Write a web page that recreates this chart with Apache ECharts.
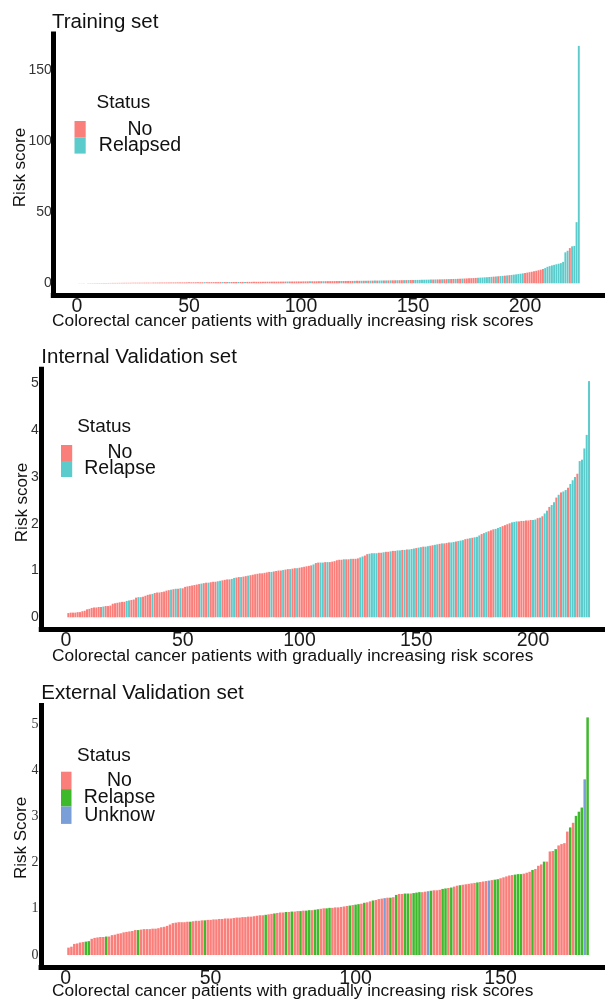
<!DOCTYPE html>
<html>
<head>
<meta charset="utf-8">
<title>Risk score distribution</title>
<script src="https://cdn.jsdelivr.net/npm/echarts@6.0.0/dist/echarts.min.js"></script>
<style>
  html, body { margin: 0; padding: 0; background: #ffffff; }
  #chart { width: 605px; height: 1002px; }
</style>
</head>
<body>
<div id="chart"></div>
<script>
// ---- Training set: risk scores sorted ascending, one per patient ----
const trainingScores = [
  0.08,0.10,0.11,0.13,0.14,0.16,0.17,0.18,0.20,0.21,
  0.22,0.24,0.25,0.26,0.27,0.29,0.30,0.31,0.32,0.33,
  0.35,0.36,0.37,0.38,0.39,0.41,0.42,0.43,0.44,0.45,
  0.46,0.48,0.49,0.50,0.51,0.52,0.53,0.55,0.56,0.57,
  0.58,0.59,0.60,0.62,0.63,0.64,0.66,0.67,0.68,0.69,
  0.70,0.72,0.73,0.74,0.75,0.76,0.78,0.79,0.80,0.81,
  0.83,0.84,0.85,0.86,0.88,0.89,0.90,0.91,0.93,0.94,
  0.95,0.96,0.98,0.99,1.00,1.01,1.03,1.04,1.05,1.06,
  1.08,1.09,1.10,1.12,1.13,1.14,1.16,1.17,1.18,1.20,
  1.21,1.22,1.24,1.25,1.27,1.28,1.29,1.31,1.32,1.34,
  1.35,1.37,1.38,1.40,1.41,1.43,1.44,1.46,1.47,1.49,
  1.50,1.52,1.54,1.55,1.57,1.59,1.60,1.62,1.64,1.66,
  1.68,1.70,1.71,1.73,1.75,1.77,1.79,1.81,1.83,1.85,
  1.87,1.90,1.92,1.94,1.96,1.99,2.01,2.03,2.06,2.08,
  2.11,2.13,2.16,2.19,2.21,2.24,2.27,2.30,2.33,2.36,
  2.39,2.42,2.45,2.49,2.52,2.56,2.59,2.63,2.67,2.71,
  2.75,2.79,2.83,2.88,2.92,2.97,3.02,3.07,3.12,3.17,
  3.25,3.32,3.39,3.46,3.54,3.62,3.71,3.80,3.90,4.00,
  4.10,4.21,4.32,4.44,4.56,4.69,4.82,4.96,5.10,5.25,
  5.40,5.56,5.73,5.91,6.10,6.30,6.52,6.75,7.00,7.26,
  7.54,7.83,8.14,8.47,8.82,9.20,9.60,10.1,10.7,11.6,
  12.1,12.6,13.0,13.4,13.8,14.2,15.1,21.8,22.9,24.8,
  26.0,26.3,43.0,167.0
];
// N = no relapse, R = relapsed
const trainingStatus =
  "NNNNNNNNNN NNNNNNNNNN NNNNNNNNNN NNNNNNNNNN NNNNNNNNNN " +
  "NNNNNNRNNN NNNNRNNRNN NRNNRNNNNN NNNNNNNNNN NNNRNNNNNN " +
  "NNNRNNNNNR NNNNNNNRNN NNNRNNRNRN RNRNRRNRNR NNRNNRNRNN " +
  "RRRRRRRRNR NNRNNRNNRN NRNNNNNNRR RRRRRNRNRR NRNRRRRRRN " +
  "NNNNNNNNRR RRRRRRRRRN RRRR";

// ---- Internal validation set ----
const internalScores = [
  0.09,0.10,0.10,0.10,0.11,0.11,0.13,0.14,0.17,0.18,
  0.20,0.21,0.21,0.22,0.22,0.23,0.24,0.24,0.25,0.29,
  0.30,0.31,0.32,0.33,0.33,0.35,0.36,0.37,0.38,0.42,
  0.43,0.43,0.44,0.46,0.48,0.49,0.50,0.52,0.53,0.53,
  0.54,0.55,0.57,0.58,0.59,0.60,0.61,0.61,0.62,0.62,
  0.65,0.66,0.67,0.68,0.69,0.70,0.71,0.72,0.73,0.74,
  0.74,0.75,0.76,0.76,0.77,0.78,0.79,0.80,0.81,0.81,
  0.82,0.84,0.85,0.86,0.86,0.87,0.88,0.89,0.90,0.91,
  0.92,0.93,0.94,0.94,0.95,0.96,0.97,0.97,0.98,0.99,
  1.00,1.00,1.01,1.02,1.03,1.03,1.04,1.05,1.05,1.06,
  1.07,1.08,1.09,1.10,1.11,1.13,1.16,1.17,1.17,1.17,
  1.18,1.18,1.18,1.19,1.20,1.22,1.23,1.23,1.24,1.24,
  1.24,1.25,1.25,1.25,1.26,1.28,1.30,1.32,1.35,1.36,
  1.37,1.37,1.37,1.38,1.38,1.39,1.40,1.40,1.41,1.42,
  1.42,1.43,1.43,1.44,1.44,1.45,1.45,1.46,1.47,1.48,
  1.49,1.50,1.51,1.51,1.52,1.53,1.54,1.55,1.56,1.57,
  1.58,1.58,1.59,1.60,1.60,1.61,1.62,1.63,1.64,1.65,
  1.67,1.68,1.69,1.70,1.71,1.72,1.75,1.78,1.80,1.82,
  1.84,1.86,1.88,1.89,1.91,1.93,1.95,1.97,1.99,2.01,
  2.03,2.04,2.05,2.05,2.06,2.06,2.07,2.07,2.08,2.08,
  2.09,2.12,2.13,2.16,2.22,2.28,2.36,2.40,2.46,2.56,
  2.62,2.67,2.69,2.72,2.77,2.85,2.93,3.00,3.07,3.34,
  3.37,3.61,3.90,5.05
];
const internalStatus =
  "NNNNNNNNNN NNNNNRNNNN NNNNNRRNNN RRNNNNRNNN NNNNRNRNRN " +
  "NNNNNNNRNN RNNNRRNNNN RRNNRNNRNN NNNNNNNRNN NNRNNRNNRN " +
  "NNNNNRNNRR NRNNNNNNRN NRNNNRRNNR RRRNNRNNRN NRRNRNRRRN " +
  "RRNRRNNRRN RNNNRRNRRR NNRNRRRNRR NNNRRRNNNN RRRNNNNNNR " +
  "RNRNRRNRRN RNRRNRRRNR RRRR";

// ---- External validation set ----
const externalScores = [
  0.16,0.18,0.24,0.25,0.27,0.28,0.29,0.30,0.35,0.37,
  0.38,0.39,0.39,0.40,0.40,0.43,0.44,0.46,0.47,0.49,
  0.50,0.51,0.52,0.54,0.54,0.55,0.56,0.56,0.56,0.57,
  0.57,0.58,0.60,0.61,0.63,0.66,0.69,0.70,0.71,0.71,
  0.71,0.72,0.72,0.73,0.74,0.74,0.75,0.75,0.76,0.76,
  0.77,0.77,0.78,0.78,0.79,0.79,0.79,0.80,0.81,0.81,
  0.82,0.82,0.83,0.83,0.84,0.85,0.86,0.86,0.87,0.88,
  0.89,0.90,0.91,0.92,0.92,0.93,0.93,0.94,0.94,0.95,
  0.95,0.96,0.96,0.97,0.97,0.98,0.99,1.00,1.01,1.01,
  1.02,1.02,1.03,1.03,1.04,1.05,1.06,1.07,1.08,1.09,
  1.10,1.11,1.13,1.14,1.16,1.18,1.19,1.21,1.22,1.23,
  1.24,1.24,1.25,1.30,1.32,1.32,1.33,1.33,1.33,1.34,
  1.35,1.36,1.36,1.37,1.38,1.39,1.40,1.40,1.41,1.43,
  1.44,1.45,1.46,1.48,1.50,1.51,1.52,1.53,1.54,1.55,
  1.56,1.57,1.58,1.59,1.60,1.61,1.62,1.63,1.64,1.66,
  1.68,1.70,1.72,1.73,1.74,1.75,1.75,1.76,1.78,1.80,
  1.84,1.86,1.93,1.96,2.02,2.02,2.24,2.25,2.29,2.37,
  2.40,2.42,2.67,2.76,2.86,3.01,3.10,3.19,3.80,5.14
];
// N = no relapse, G = relapse, U = unknown
const externalStatus =
  "NNNNNNGGNN NNNGNNNNNN NNNNGNNNNN NNNNNNNNNN NNGNNNNGNN " +
  "NNNNNNNNNN NNNNNNNNGN NGNNNGNGNN GNGGNGGNNG GNNNNNNGNG " +
  "GNGNNGNNNU NGNGNNGGNG GGNNUGNNNG GNGNNGNNNN NGNNNUNGGN " +
  "NNNNGGGNNN GNNNGNNNGN NNNGNGGGUG";

// ---- tick labels ----
const trainingXTicks = [0, 50, 100, 150, 200];
const trainingYTicks = [0, 50, 100, 150];
const internalXTicks = [0, 50, 100, 150, 200];
const internalYTicks = [0, 1, 2, 3, 4, 5];
const externalXTicks = [0, 50, 100, 150];
const externalYTicks = [0, 1, 2, 3, 4, 5];

// ---- legend entries ----
const trainingLegend = [["N", "No"], ["R", "Relapsed"]];
const internalLegend = [["N", "No"], ["R", "Relapse"]];
const externalLegend = [["N", "No"], ["G", "Relapse"], ["U", "Unknow"]];

const statusColor = { N: "#FA7F7B", R: "#5BCBCB", G: "#3FB92C", U: "#799ED8" };

const SANS = "'Liberation Sans', Arial, sans-serif";
const SERIF = "'Liberation Serif', 'Times New Roman', serif";

function parseStatus(s) { return s.replace(/\s+/g, "").split(""); }

// panel geometry (pixels) and axis extents
const panels = [
  {
    scores: trainingScores, status: parseStatus(trainingStatus),
    xTicks: trainingXTicks, yTicks: trainingYTicks,
    grid: { left: 53.3, right: 0, top: 34, height: 261.2 },
    xMin: -10.6, xMax: 235.7, yMin: -8.35, yMax: 175.35, barWidth: 1.9,
    yLabelFont: SANS, yLabelMargin: 1.5,
    title: { text: "Training set", x: 52, y: 22.2 },
    yName: { text: "Risk score", x: 20.3, y: 167.5 },
    xName: { text: "Colorectal cancer patients with gradually increasing risk scores", x: 52.1, y: 321 },
    legend: { items: trainingLegend, headX: 96.5, headY: 103, keyX: 74.5, keyY: 121, keyW: 11.2, keyH: 16.3, labelX: 140 }
  },
  {
    scores: internalScores, status: parseStatus(internalStatus),
    xTicks: internalXTicks, yTicks: internalYTicks,
    grid: { left: 41.25, right: 0, top: 369.3, height: 259.8 },
    xMin: -10.6, xMax: 230.84, yMin: -0.2525, yMax: 5.3025, barWidth: 2.0,
    yLabelFont: SANS, yLabelMargin: 2.5,
    title: { text: "Internal Validation set", x: 41.3, y: 357 },
    yName: { text: "Risk score", x: 22.2, y: 502.5 },
    xName: { text: "Colorectal cancer patients with gradually increasing risk scores", x: 52.1, y: 656 },
    legend: { items: internalLegend, headX: 77.2, headY: 427, keyX: 61, keyY: 445, keyW: 11.2, keyH: 16, labelX: 120 }
  },
  {
    scores: externalScores, status: parseStatus(externalStatus),
    xTicks: externalXTicks, yTicks: externalYTicks,
    grid: { left: 41.1, right: 0, top: 705.5, height: 261.4 },
    xMin: -8.45, xMax: 186.0, yMin: -0.257, yMax: 5.397, barWidth: 2.5,
    yLabelFont: SERIF, yLabelMargin: 2.5,
    title: { text: "External Validation set", x: 41.3, y: 693.7 },
    yName: { text: "Risk Score", x: 21.4, y: 838 },
    xName: { text: "Colorectal cancer patients with gradually increasing risk scores", x: 52.1, y: 991.7 },
    legend: { items: externalLegend, headX: 77, headY: 756, keyX: 61, keyY: 771.7, keyW: 10.5, keyH: 17.4, labelX: 119.5 }
  }
];

const grids = [], xAxes = [], yAxes = [], series = [], graphics = [];

panels.forEach((p, k) => {
  grids.push(Object.assign({ containLabel: false }, p.grid));

  xAxes.push({
    type: "value", gridIndex: k, min: p.xMin, max: p.xMax,
    splitLine: { show: false },
    axisLine: { show: true, onZero: false, lineStyle: { color: "#000", width: 5, cap: "square" } },
    axisTick: { show: true, length: 3, customValues: p.xTicks, lineStyle: { color: "#000", width: 1.2 } },
    axisLabel: {
      customValues: p.xTicks, fontSize: 19.5, fontFamily: SANS, color: "#1a1a1a",
      margin: 11.5, verticalAlign: "middle"
    }
  });

  yAxes.push({
    type: "value", gridIndex: k, min: p.yMin, max: p.yMax,
    splitLine: { show: false },
    axisLine: { show: true, onZero: false, lineStyle: { color: "#000", width: 5, cap: "square" } },
    axisTick: { show: false, customValues: p.yTicks },
    axisLabel: {
      customValues: p.yTicks, fontSize: 14, fontFamily: p.yLabelFont, color: "#333",
      margin: p.yLabelMargin
    }
  });

  series.push({
    type: "bar", xAxisIndex: k, yAxisIndex: k, barWidth: p.barWidth,
    silent: true, animation: false,
    data: p.scores.map((v, j) => ({
      value: [j + 1, v],
      itemStyle: { color: statusColor[p.status[j]] }
    }))
  });

  graphics.push({
    type: "text", silent: true,
    style: { text: p.title.text, x: p.title.x, y: p.title.y, fill: "#111",
             font: "20.5px " + SANS, textAlign: "left", textVerticalAlign: "middle" }
  });
  graphics.push({
    type: "text", silent: true, x: p.yName.x, y: p.yName.y, rotation: Math.PI / 2,
    style: { text: p.yName.text, x: 0, y: 0, fill: "#111",
             font: "17px " + SANS, textAlign: "center", textVerticalAlign: "middle" }
  });
  graphics.push({
    type: "text", silent: true,
    style: { text: p.xName.text, x: p.xName.x, y: p.xName.y, fill: "#111",
             font: "17.3px " + SANS, textAlign: "left", textVerticalAlign: "middle" }
  });

  // legend: heading, colour keys and centred labels
  const L = p.legend;
  graphics.push({
    type: "text", silent: true,
    style: { text: "Status", x: L.headX, y: L.headY, fill: "#111",
             font: "19px " + SANS, textAlign: "left", textVerticalAlign: "middle" }
  });
  L.items.forEach(([code, label], m) => {
    const top = L.keyY + m * L.keyH;
    graphics.push({
      type: "rect", silent: true,
      shape: { x: L.keyX, y: top, width: L.keyW, height: L.keyH },
      style: { fill: statusColor[code] }
    });
    graphics.push({
      type: "text", silent: true,
      style: { text: label, x: L.labelX, y: top + L.keyH / 2, fill: "#111",
               font: "19.5px " + SANS, textAlign: "center", textVerticalAlign: "middle" }
    });
  });
});

const chart = echarts.init(document.getElementById("chart"), null, { renderer: "canvas" });
chart.setOption({
  backgroundColor: "#ffffff",
  animation: false,
  grid: grids,
  xAxis: xAxes,
  yAxis: yAxes,
  series: series,
  graphic: graphics
});
</script>
</body>
</html>
